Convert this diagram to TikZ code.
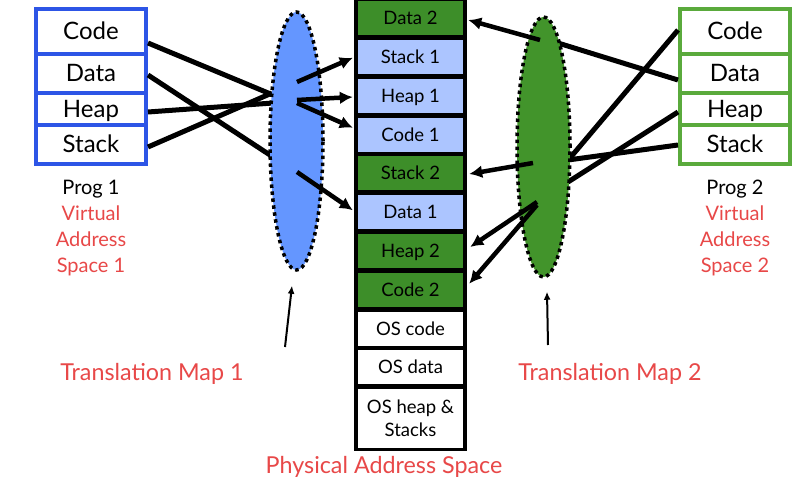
\documentclass[tikz,border=0pt]{standalone}
\usepackage{fontspec}
\setmainfont{Lato}
\usetikzlibrary{shapes.geometric,arrows.meta}
\definecolor{boxblue}{RGB}{45,85,230}
\definecolor{boxgreen}{RGB}{90,170,60}
\definecolor{ellblue}{RGB}{100,150,255}
\definecolor{ellgreen}{RGB}{66,148,43}
\definecolor{cellblue}{RGB}{172,197,255}
\definecolor{cellgreen}{RGB}{61,142,41}
\definecolor{labred}{RGB}{232,72,72}
\tikzset{
  vcell/.style={draw=#1, line width=4pt, fill=white, minimum width=110pt, inner sep=0pt,
    font=\fontsize{24}{28}\selectfont, text height=17pt, text depth=0pt},
  pcell/.style={fill=#1, minimum width=105pt, minimum height=34pt, inner sep=0pt,
    font=\fontsize{18.5}{22}\selectfont, text height=13pt, text depth=0pt},
  conn/.style={line width=5pt},
  arr/.style={line width=4.5pt, -{Latex[length=13pt,width=13pt]}},
  thinarr/.style={line width=2pt, -{Latex[length=8pt,width=7pt]}},
  mapell/.style={ellipse, fill=#1, draw=black, line width=3.5pt, dash pattern=on 3.5pt off 3.5pt,
    minimum width=53pt, inner sep=0pt},
  redlab/.style={text=labred, font=\fontsize{23.3}{28}\selectfont},
  proglab/.style={align=center, font=\fontsize{20}{26.3}\selectfont}
}
\begin{document}
\begin{tikzpicture}[x=1pt,y=-1pt]
\useasboundingbox (0,0) rectangle (806,481);
\fill[white] (0,0) rectangle (806,481);

% left virtual address space
\node[vcell=boxblue, minimum height=45pt] (lcode) at (91,31.5) {Code};
\node[vcell=boxblue, minimum height=39pt] (ldata) at (91,73.5) {Data};
\node[vcell=boxblue, minimum height=32pt] (lheap) at (91,109) {Heap};
\node[vcell=boxblue, minimum height=39pt] (lstack) at (91,144.5) {Stack};
\node[proglab] (lprog) at (91,228) {Prog 1\\\textcolor{labred}{Virtual}\\\textcolor{labred}{Address}\\\textcolor{labred}{Space 1}};

% right virtual address space
\node[vcell=boxgreen, minimum height=45pt] (rcode) at (735,31.5) {Code};
\node[vcell=boxgreen, minimum height=39pt] (rdata) at (735,73.5) {Data};
\node[vcell=boxgreen, minimum height=32pt] (rheap) at (735,109) {Heap};
\node[vcell=boxgreen, minimum height=39pt] (rstack) at (735,144.5) {Stack};
\node[proglab] (rprog) at (735,228) {Prog 2\\\textcolor{labred}{Virtual}\\\textcolor{labred}{Address}\\\textcolor{labred}{Space 2}};

% physical memory column
\fill[black] (354,0) rectangle (467,451);
\node[pcell=cellgreen] (d2) at (410.5,18.5) {Data 2};
\node[pcell=cellblue] (s1) at (410.5,57.25) {Stack 1};
\node[pcell=cellblue] (h1) at (410.5,96) {Heap 1};
\node[pcell=cellblue] (c1) at (410.5,134.75) {Code 1};
\node[pcell=cellgreen] (s2) at (410.5,173.5) {Stack 2};
\node[pcell=cellblue] (d1) at (410.5,212.25) {Data 1};
\node[pcell=cellgreen] (h2) at (410.5,251) {Heap 2};
\node[pcell=cellgreen] (c2) at (410.5,289.75) {Code 2};
\node[pcell=white] (osc) at (410.5,328.5) {OS code};
\node[pcell=white] (osd) at (410.5,367.25) {OS data};
\node[pcell=white, minimum height=59pt, align=center, text height=, font=\fontsize{18.5}{23}\selectfont] (osh) at (410.5,418) {OS heap \&\\Stacks};

% incoming line end points (at map edges)
\coordinate (lin1) at (273,95);
\coordinate (lin2) at (273,157);
\coordinate (lin3) at (273,103);
\coordinate (lin4) at (272,93);
\coordinate (rin1) at (570,158);
\coordinate (rin2) at (558,43);
\coordinate (rin3) at (568,182);
\coordinate (rin4) at (568,160);

\draw[conn] ([yshift=-11.5pt]lcode.east) -- (lin1);
\draw[conn] ([yshift=-1.5pt]ldata.east) -- (lin2);
\draw[conn] ([yshift=-3pt]lheap.east) -- (lin3);
\draw[conn] ([yshift=-2.5pt]lstack.east) -- (lin4);
\draw[conn] ([yshift=1.5pt]rcode.west) -- (rin1);
\draw[conn] ([yshift=-6.5pt]rdata.west) -- (rin2);
\draw[conn] ([yshift=-3pt]rheap.west) -- (rin3);
\draw[conn] ([yshift=-0.5pt]rstack.west) -- (rin4);

% translation maps
\node[mapell=ellblue, minimum height=258pt] (e1) at (296.5,141) {};
\node[mapell=ellgreen, minimum height=260pt] (e2) at (543.5,147) {};

% outgoing arrows
\coordinate (lout1) at (297,82);
\coordinate (lout2) at (297,100);
\coordinate (lout3) at (297,103);
\coordinate (lout4) at (297,172);
\coordinate (rout1) at (540,40);
\coordinate (rout2) at (533,163);
\coordinate (rout3) at (537,202);
\coordinate (rout4) at (537,205);

\draw[arr] (lout1) -- ([xshift=-5pt,yshift=-0.5pt]s1.west);
\draw[arr] (lout2) -- ([xshift=-5pt,yshift=-1pt]h1.west);
\draw[arr] (lout3) -- ([xshift=-5pt,yshift=7pt]c1.west);
\draw[arr] (lout4) -- ([xshift=-5pt,yshift=2pt]d1.west);
\draw[arr] (rout1) -- ([xshift=5pt,yshift=-1.5pt]d2.east);
\draw[arr] (rout2) -- ([xshift=6pt,yshift=-0.5pt]s2.east);
\draw[arr] (rout3) -- ([xshift=7pt,yshift=4pt]h2.east);
\draw[arr] (rout4) -- ([xshift=6pt,yshift=6pt]c2.east);

% labels
\coordinate (t1) at (285,347);
\coordinate (t2) at (548,345);
\draw[thinarr] (t1) -- ([shift={(-4.5pt,-14pt)}]e1.south);
\draw[thinarr] (t2) -- ([shift={(3.5pt,-13pt)}]e2.south);
\node[redlab] (tm1) at (152,374) {Translation Map 1};
\node[redlab] (tm2) at (610,374) {Translation Map 2};
\node[redlab] (pas) at (384,467) {Physical Address Space};
\end{tikzpicture}
\end{document}
